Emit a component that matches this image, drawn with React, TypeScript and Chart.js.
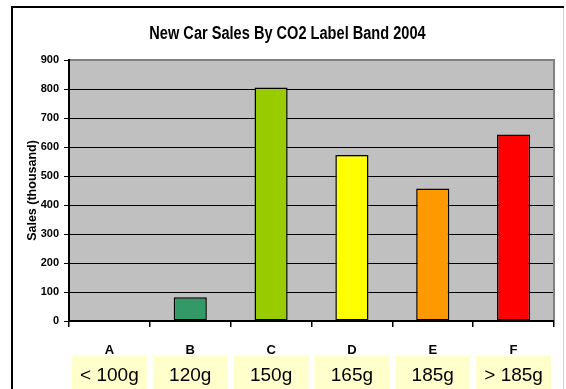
import React, { useEffect, useRef } from "react";
import { Chart, registerables } from "chart.js";

Chart.register(...registerables);

const chartTitle = "New Car Sales By CO2 Label Band 2004";
const bands = ["A", "B", "C", "D", "E", "F"];
const bandLabels = ["< 100g", "120g", "150g", "165g", "185g", "> 185g"];
const sales = [0, 82, 805, 572, 457, 643];
const barColors = ["#339966", "#339966", "#99CC00", "#FFFF00", "#FF9900", "#FF0000"];
const yTicks = [0, 100, 200, 300, 400, 500, 600, 700, 800, 900];

const FONT = "'Liberation Sans', Arial, sans-serif";

const framePlugin = {
  id: "frame",
  beforeDraw(chart: any) {
    const ctx = chart.ctx;
    ctx.save();
    ctx.fillStyle = "#ffffff";
    ctx.fillRect(0, 0, chart.width, chart.height);
    ctx.strokeStyle = "#d0d0d0";
    ctx.lineWidth = 1;
    ctx.beginPath();
    ctx.moveTo(563.5, 7);
    ctx.lineTo(563.5, chart.height);
    ctx.stroke();
    ctx.strokeStyle = "#000000";
    ctx.lineWidth = 2;
    ctx.beginPath();
    ctx.moveTo(12, chart.height);
    ctx.lineTo(12, 7);
    ctx.lineTo(564, 7);
    ctx.stroke();
    const a = chart.chartArea;
    ctx.fillStyle = "#C0C0C0";
    ctx.fillRect(a.left, a.top, a.right - a.left, a.bottom - a.top);
    // condensed bold title
    ctx.translate(287.5, 39);
    ctx.scale(0.81, 1);
    ctx.font = `bold 18px ${FONT}`;
    ctx.textAlign = "center";
    ctx.textBaseline = "alphabetic";
    ctx.fillStyle = "#000000";
    ctx.fillText(chartTitle, 0, 0);
    ctx.restore();
  },
  afterDatasetsDraw(chart: any) {
    const ctx = chart.ctx;
    const a = chart.chartArea;
    ctx.save();
    ctx.strokeStyle = "#808080";
    ctx.lineWidth = 2;
    ctx.beginPath();
    ctx.moveTo(a.left + 1, a.top);
    ctx.lineTo(a.right, a.top);
    ctx.lineTo(a.right, a.bottom - 1);
    ctx.stroke();
    ctx.restore();
  },
  afterDraw(chart: any) {
    const ctx = chart.ctx;
    const xs = chart.scales.x;
    ctx.save();
    ctx.textAlign = "center";
    bands.forEach((b, i) => {
      const cx = xs.getPixelForValue(i);
      ctx.fillStyle = "#FFFFCC";
      ctx.fillRect(cx - 37.5, 356, 75, chart.height - 356);
      ctx.fillStyle = "#000000";
      ctx.font = `bold 13px ${FONT}`;
      ctx.textBaseline = "alphabetic";
      ctx.fillText(b, cx, 354);
      ctx.font = `19px ${FONT}`;
      ctx.fillText(bandLabels[i], cx, 381);
    });
    ctx.restore();
  },
};

export default function App() {
  const ref = useRef<HTMLCanvasElement>(null);
  useEffect(() => {
    if (!ref.current) return;
    const chart = new Chart(ref.current, {
      type: "bar",
      data: {
        labels: bands,
        datasets: [
          {
            data: sales,
            backgroundColor: barColors,
            borderColor: "#000000",
            borderWidth: 1.5,
            borderSkipped: false,
            categoryPercentage: 1,
            barPercentage: 0.41,
          },
        ],
      },
      options: {
        responsive: false,
        animation: false,
        layout: { padding: { left: 22, right: 12, top: 60, bottom: 0 } },
        plugins: {
          legend: { display: false },
          tooltip: { enabled: false },
          title: { display: false },
        },
        scales: {
          x: {
            offset: true,
            grid: {
              offset: true,
              drawOnChartArea: false,
              drawTicks: true,
              tickLength: 6,
              color: "#000000",
              lineWidth: 1.5,
            },
            border: { color: "#000000", width: 2 },
            ticks: { display: false },
            afterFit: (s: any) => {
              s.height = 68;
            },
          },
          y: {
            min: 0,
            max: 900,
            afterBuildTicks: (s: any) => {
              s.ticks = yTicks.map((v) => ({ value: v }));
            },
            grid: {
              color: "#000000",
              lineWidth: 1,
              tickLength: 5,
              drawTicks: true,
            },
            border: { color: "#000000", width: 2 },
            ticks: {
              color: "#000000",
              padding: 5,
              font: { family: FONT, size: 11, weight: "bold" },
            },
            title: {
              display: true,
              text: "Sales (thousand)",
              color: "#000000",
              font: { family: FONT, size: 12.5, weight: "bold" },
              padding: { top: 3, bottom: 4 },
            },
            afterFit: (s: any) => {
              s.width = 47;
            },
          },
        },
      },
      plugins: [framePlugin],
    });
    return () => chart.destroy();
  }, []);
  return (
    <div style={{ position: "fixed", left: 0, top: 0, width: 566, height: 389, background: "#fff" }}>
      <canvas ref={ref} width={566} height={389} style={{ display: "block" }} />
    </div>
  );
}
